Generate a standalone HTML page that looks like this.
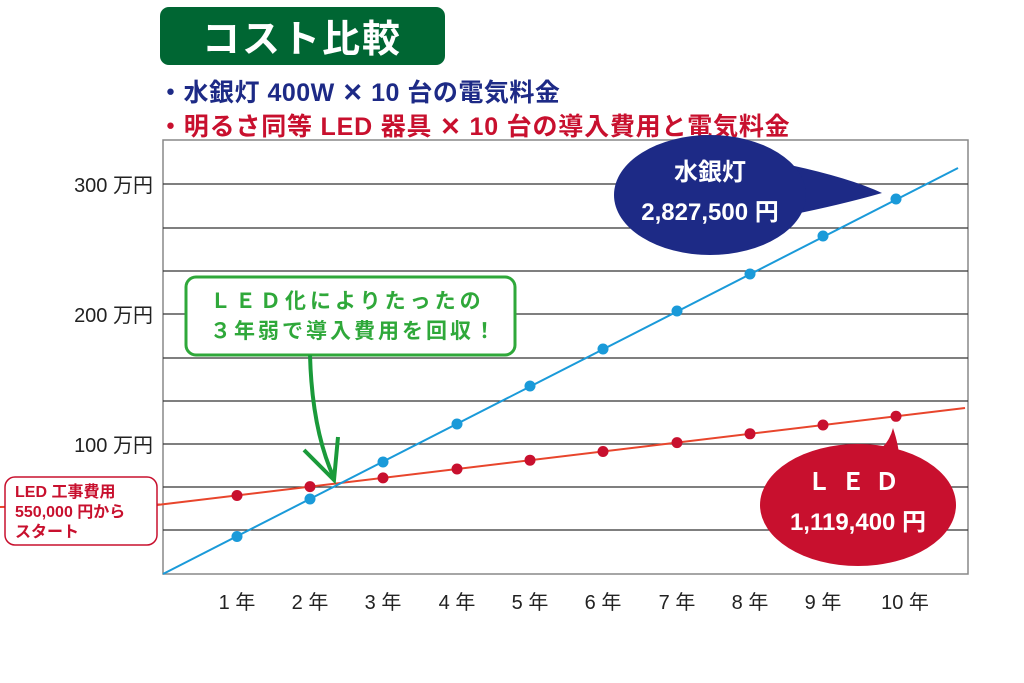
<!DOCTYPE html>
<html><head><meta charset="utf-8"><style>
body{margin:0;background:#fff;width:1024px;height:683px;overflow:hidden}
svg{display:block}
text{font-family:"Liberation Sans","Noto Sans CJK JP",sans-serif}
</style></head><body>
<svg width="1024" height="683" viewBox="0 0 1024 683">
<rect x="160" y="7" width="285" height="58" rx="9" fill="#006633"/>
<text x="302" y="52" font-size="38" font-weight="bold" fill="#fff" text-anchor="middle" letter-spacing="2">コスト比較</text>
<text x="158" y="101" font-size="25" font-weight="bold" fill="#1d2a86" letter-spacing="0.5">・水銀灯 400W ✕ 10 台の電気料金</text>
<text x="158" y="135" font-size="25" font-weight="bold" fill="#c8102e" letter-spacing="0.8">・明るさ同等 LED 器具 ✕ 10 台の導入費用と電気料金</text>
<rect x="163" y="140" width="805" height="434" fill="none" stroke="#888" stroke-width="1.5"/>
<g stroke="#333" stroke-width="1.2">
<line x1="163" x2="968" y1="184" y2="184"/><line x1="163" x2="968" y1="228" y2="228"/>
<line x1="163" x2="968" y1="271" y2="271"/><line x1="163" x2="968" y1="314" y2="314"/>
<line x1="163" x2="968" y1="358" y2="358"/><line x1="163" x2="968" y1="401" y2="401"/>
<line x1="163" x2="968" y1="444" y2="444"/><line x1="163" x2="968" y1="487" y2="487"/>
<line x1="163" x2="968" y1="530" y2="530"/>
</g>
<g font-size="20" fill="#222" text-anchor="end">
<text x="153" y="192">300 万円</text><text x="153" y="322">200 万円</text><text x="153" y="452">100 万円</text>
</g>
<g font-size="20" fill="#222" text-anchor="middle">
<text x="237" y="609">1 年</text><text x="310" y="609">2 年</text><text x="383" y="609">3 年</text><text x="457" y="609">4 年</text><text x="530" y="609">5 年</text><text x="603" y="609">6 年</text><text x="677" y="609">7 年</text><text x="750" y="609">8 年</text><text x="823" y="609">9 年</text><text x="905" y="609">10 年</text>
</g>
<line x1="0" y1="507" x2="160" y2="504.5" stroke="#e8452c" stroke-width="2"/>
<line x1="157" y1="505" x2="965" y2="408" stroke="#e8452c" stroke-width="2"/>
<line x1="163" y1="574" x2="958" y2="168" stroke="#1a9ad9" stroke-width="2"/>
<g fill="#c8102e">
<circle cx="237" cy="495.5" r="5.5"/><circle cx="310" cy="486.6" r="5.5"/><circle cx="383" cy="477.9" r="5.5"/><circle cx="457" cy="469" r="5.5"/><circle cx="530" cy="460.2" r="5.5"/><circle cx="603" cy="451.5" r="5.5"/><circle cx="677" cy="442.6" r="5.5"/><circle cx="750" cy="433.8" r="5.5"/><circle cx="823" cy="425" r="5.5"/><circle cx="896" cy="416.3" r="5.5"/>
</g>
<g fill="#1a9ad9">
<circle cx="237" cy="536.5" r="5.5"/><circle cx="310" cy="499" r="5.5"/><circle cx="383" cy="462" r="5.5"/><circle cx="457" cy="424" r="5.5"/><circle cx="530" cy="386" r="5.5"/><circle cx="603" cy="349" r="5.5"/><circle cx="677" cy="311" r="5.5"/><circle cx="750" cy="274" r="5.5"/><circle cx="823" cy="236" r="5.5"/><circle cx="896" cy="199" r="5.5"/>
</g>
<rect x="5" y="477" width="152" height="68" rx="10" fill="#fff" stroke="#c8102e" stroke-width="1.5"/>
<g font-size="16" font-weight="bold" fill="#c8102e">
<text x="15" y="497">LED 工事費用</text><text x="15" y="517">550,000 円から</text><text x="15" y="537">スタート</text>
</g>
<rect x="186" y="277" width="329" height="78" rx="10" fill="#fff" stroke="#2fa83a" stroke-width="3"/>
<g font-size="21" fill="#2fa83a" font-weight="bold">
<text x="210" y="308" letter-spacing="4">ＬＥＤ化によりたったの</text><text x="210" y="338" letter-spacing="3">３年弱で導入費用を回収！</text>
</g>
<path d="M310 355 Q312 430 334 478" fill="none" stroke="#1a9a3a" stroke-width="4"/>
<path d="M304 450 L334 480 L338 437" fill="none" stroke="#1a9a3a" stroke-width="4"/>
<path d="M790 165 Q850 178 882 193 Q840 205 790 215 Z" fill="#1d2a86"/>
<ellipse cx="710" cy="195" rx="96" ry="60" fill="#1d2a86"/>
<text x="710" y="180" font-size="24" font-weight="bold" fill="#fff" text-anchor="middle">水銀灯</text>
<text x="710" y="220" font-size="24" font-weight="bold" fill="#fff" text-anchor="middle">2,827,500 円</text>
<path d="M870 455 Q888 448 893 428 Q902 455 898 470 Z" fill="#c8102e"/>
<ellipse cx="858" cy="505" rx="98" ry="61" fill="#c8102e"/>
<text x="858" y="490" font-size="24" font-weight="bold" fill="#fff" text-anchor="middle" letter-spacing="10">ＬＥＤ</text>
<text x="858" y="530" font-size="24" font-weight="bold" fill="#fff" text-anchor="middle">1,119,400 円</text>
</svg>
</body></html>
